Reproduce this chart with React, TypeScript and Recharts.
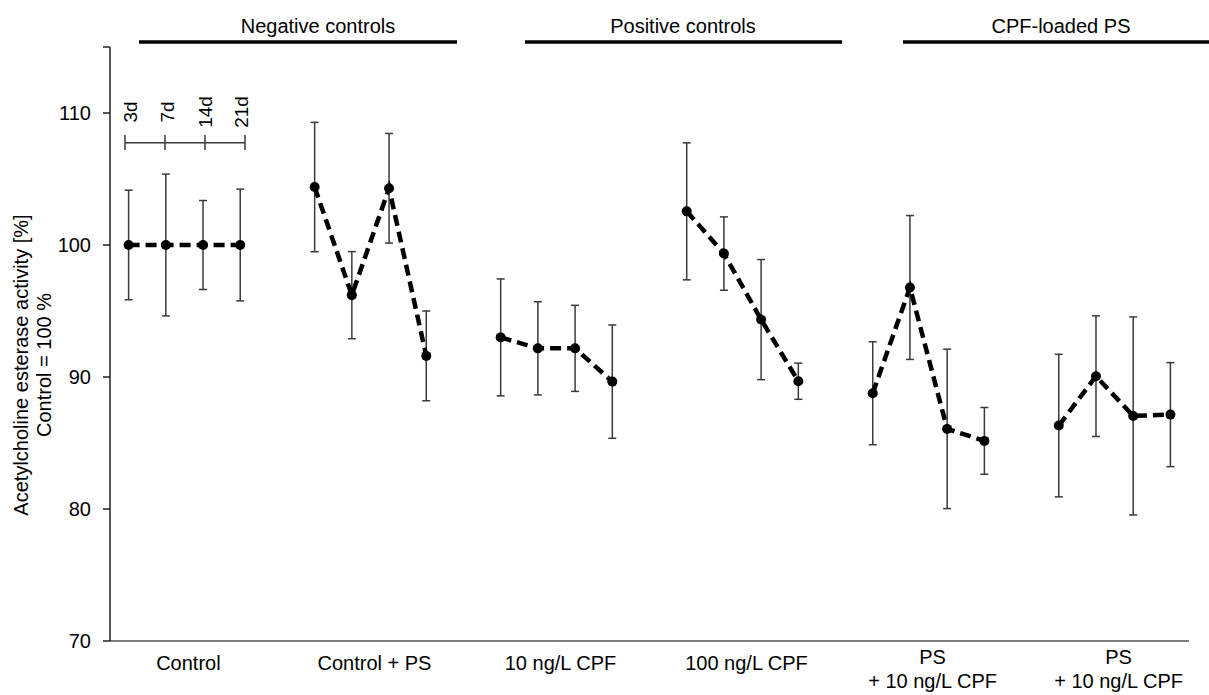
import React from 'react';
import { LineChart, Line, XAxis, YAxis, ErrorBar } from 'recharts';

const groupLabels = ['Control', 'Control + PS', '10 ng/L CPF', '100 ng/L CPF', 'PS\n+ 10 ng/L CPF', 'PS\n+ 10 ng/L CPF'];
const dayLabels = ['3d', '7d', '14d', '21d'];
const topGroupLabels = ['Negative controls', 'Positive controls', 'CPF-loaded PS'];

const controlMean = [100, 100, 100, 100];
const controlErr = [4.15, 5.37, 3.37, 4.23];
const controlPsMean = [104.39, 96.2, 104.3, 91.6];
const controlPsErr = [4.9, 3.3, 4.15, 3.4];
const cpf10Mean = [93.0, 92.17, 92.17, 89.65];
const cpf10Err = [4.43, 3.53, 3.26, 4.29];
const cpf100Mean = [102.55, 99.35, 94.35, 89.68];
const cpf100Err = [5.19, 2.78, 4.55, 1.37];
const psCpfAMean = [88.77, 96.78, 86.07, 85.16];
const psCpfAErr = [3.9, 5.45, 6.04, 2.53];
const psCpfBMean = [86.32, 90.06, 87.05, 87.15];
const psCpfBErr = [5.4, 4.57, 7.5, 3.94];

const yTicks = [70, 80, 90, 100, 110, 115];

const groupMeans = [controlMean, controlPsMean, cpf10Mean, cpf100Mean, psCpfAMean, psCpfBMean];
const groupErrs = [controlErr, controlPsErr, cpf10Err, cpf100Err, psCpfAErr, psCpfBErr];

const SLOTS_PER_GROUP = 5;
const seriesData = groupMeans.map((means, g) =>
  means.map((m, d) => ({ x: g * SLOTS_PER_GROUP + d, mean: m, err: groupErrs[g][d] }))
);
const groupTicks = groupLabels.map((_, g) => g * SLOTS_PER_GROUP + 1.5);

const FONT = '"Liberation Sans", Arial, Helvetica, sans-serif';

const GroupTick = (props: any) => {
  const { x, y, index } = props;
  const lines = groupLabels[index].split('\n');
  if (lines.length === 1) {
    return (
      <text x={x + 4} y={y + 29} textAnchor="middle" fontSize={20} fontFamily={FONT} fill="#000">
        {lines[0]}
      </text>
    );
  }
  return (
    <text x={x + 4} y={y + 23} textAnchor="middle" fontSize={20} fontFamily={FONT} fill="#000">
      {lines.map((l: string, i: number) => (
        <tspan key={i} x={x + 4} dy={i === 0 ? 0 : 24}>
          {l}
        </tspan>
      ))}
    </text>
  );
};

export default function App() {
  return (
    <div style={{ position: 'absolute', left: 0, top: 0, width: 1209, height: 695, background: '#fff' }}>
      <LineChart width={1209} height={695} margin={{ top: 47, right: 20, bottom: 4, left: 50 }}>
        <XAxis
          type="number"
          dataKey="x"
          domain={[-0.5, 28.5]}
          ticks={groupTicks}
          tickLine={false}
          tickSize={0}
          tickMargin={0}
          interval={0}
          height={50}
          axisLine={{ stroke: '#555', strokeWidth: 1.5 }}
          tick={<GroupTick />}
        />
        <YAxis
          type="number"
          domain={[70, 115]}
          ticks={yTicks}
          interval={0}
          width={60}
          tickSize={7}
          tickMargin={12}
          axisLine={{ stroke: '#222', strokeWidth: 1.5 }}
          tickLine={{ stroke: '#222', strokeWidth: 1.5 }}
          tick={{ fontSize: 20, fontFamily: FONT, fill: '#000' }}
          tickFormatter={(v: number) => (v === 115 ? '' : String(v))}
        />
        {seriesData.map((rows, g) => (
          <Line
            key={g}
            data={rows}
            dataKey="mean"
            stroke="#000"
            strokeWidth={4.5}
            strokeDasharray="11 6"
            isAnimationActive={false}
            dot={{ r: 5, fill: '#000', stroke: '#000', strokeWidth: 0, strokeDasharray: 'none' }}
            activeDot={false}
          >
            <ErrorBar dataKey="err" direction="y" width={4} stroke="#3a3a3a" strokeWidth={1.5} isAnimationActive={false} />
          </Line>
        ))}
      </LineChart>
      <svg
        width={1209}
        height={695}
        style={{ position: 'absolute', left: 0, top: 0, pointerEvents: 'none' }}
        fontFamily={FONT}
      >
        {/* group bars */}
        <line x1={139} x2={457} y1={42} y2={42} stroke="#000" strokeWidth={3.5} />
        <line x1={525} x2={842} y1={42} y2={42} stroke="#000" strokeWidth={3.5} />
        <line x1={903} x2={1209} y1={42} y2={42} stroke="#000" strokeWidth={3.5} />
        <text x={318} y={33} textAnchor="middle" fontSize={20} fill="#000">{topGroupLabels[0]}</text>
        <text x={683} y={33} textAnchor="middle" fontSize={20} fill="#000">{topGroupLabels[1]}</text>
        <text x={1061} y={33} textAnchor="middle" fontSize={20} fill="#000">{topGroupLabels[2]}</text>
        {/* day ruler */}
        <line x1={125} x2={245} y1={142.7} y2={142.7} stroke="#3a3a3a" strokeWidth={1.5} />
        {[125, 165, 205, 245].map((tx, i) => (
          <line key={i} x1={tx} x2={tx} y1={135} y2={150} stroke="#3a3a3a" strokeWidth={1.5} />
        ))}
        {[136.5, 173.7, 211.5, 248].map((bx, i) => (
          <text
            key={i}
            transform={`translate(${bx},112) rotate(-90)`}
            textAnchor="middle"
            fontSize={19}
            fill="#000"
          >
            {dayLabels[i]}
          </text>
        ))}
        {/* y axis title */}
        <text transform="translate(28,365) rotate(-90)" textAnchor="middle" fontSize={20} fill="#000">
          Acetylcholine esterase activity [%]
        </text>
        <text transform="translate(51,365) rotate(-90)" textAnchor="middle" fontSize={20} fill="#000">
          Control = 100 %
        </text>
      </svg>
    </div>
  );
}
